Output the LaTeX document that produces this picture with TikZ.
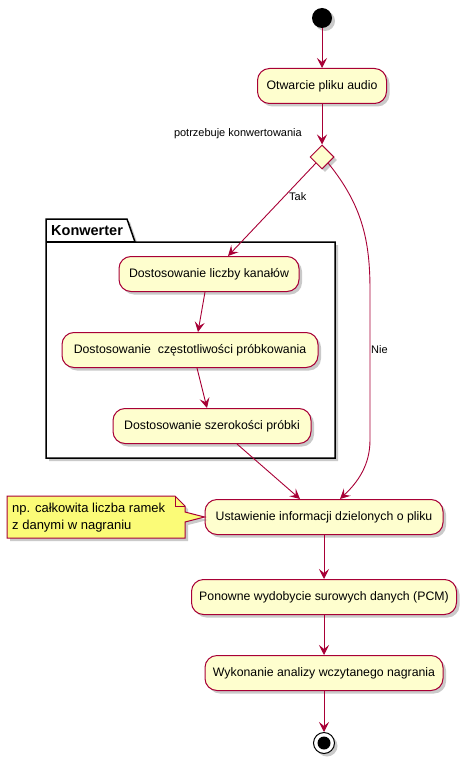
\documentclass[tikz,border=0pt]{standalone}
\usepackage{fontspec}
\setmainfont{Liberation Sans}
\usetikzlibrary{shapes.geometric,arrows.meta,shadows}
\definecolor{actfill}{HTML}{FEFECE}
\definecolor{actline}{HTML}{A80036}
\definecolor{notefill}{HTML}{FBFB77}
\tikzset{
  shad/.style={drop shadow={shadow xshift=3pt,shadow yshift=-3pt,opacity=0.35,fill=black!60}},
  act/.style={draw=actline,fill=actfill,line width=1pt,rounded corners=12pt,shad,
    inner sep=0pt,minimum height=35pt,font=\fontsize{12.3}{14}\selectfont,text=black},
  flow/.style={draw=actline,line width=0.9pt,-{Stealth[length=10pt,width=10pt,inset=4pt]}},
  lbl/.style={font=\fontsize{11}{13}\selectfont,text=black,inner sep=0pt},
}
\begin{document}
\begin{tikzpicture}[x=1pt,y=-1pt]
\useasboundingbox (0,0) rectangle (467,762);
% package
\path[draw=black,line width=1.5pt,fill=white,shad] (46,242) -- (46,219) -- (127,219) -- (135,242) -- (335,242) -- (335,458) -- (46,458) -- cycle;
\draw[black,line width=1.5pt] (46,242) -- (135,242);
\node[anchor=west,font=\bfseries\fontsize{14.5}{16}\selectfont,inner sep=0pt] (pk) at (51,231) {Konwerter};
% nodes
\node[circle,fill=black,minimum size=20pt,inner sep=0pt,shad] (s) at (322,18) {};
\node[act,minimum width=129pt] (a1) at (322,86) {Otwarcie pliku audio};
\node[diamond,draw=actline,fill=actfill,line width=1pt,minimum width=24pt,minimum height=24pt,inner sep=0pt,shad] (d) at (322,157) {};
\node[lbl,anchor=east] (dl) at (302,134) {potrzebuje konwertowania};
\node[act,minimum width=180pt] (k1) at (209,274) {Dostosowanie liczby kanałów};
\node[act,minimum width=256pt] (k2) at (190,350) {Dostosowanie\ \ częstotliwości próbkowania};
\node[act,minimum width=198pt] (k3) at (212,426) {Dostosowanie szerokości próbki};
\node[act,minimum width=238pt] (u) at (324,517) {Ustawienie informacji dzielonych o pliku};
\node[act,minimum width=265pt] (p) at (324,597) {Ponowne wydobycie surowych danych (PCM)};
\node[act,minimum width=238pt] (w) at (324,673) {Wykonanie analizy wczytanego nagrania};
\node[circle,draw=black,line width=1pt,fill=white,minimum size=21pt,inner sep=0pt,shad] (e) at (324,743) {};
\node[circle,fill=black,minimum size=13pt,inner sep=0pt] (ei) at (324,743) {};
% note
\path[draw=actline,fill=notefill,line width=1pt,shad] (7,496) -- (175,496) -- (185,506) -- (185,512) -- (u.west) -- (185,522) -- (185,538) -- (7,538) -- cycle;
\draw[actline,line width=1pt] (175,496) -- (175,506) -- (185,506);
\node[anchor=west,align=left,font=\fontsize{13}{17}\selectfont,inner sep=0pt] (nt) at (12,517.5) {np. całkowita liczba ramek\\z danymi w nagraniu};
% connectors
\draw[flow] (s) -- (a1);
\draw[flow] (a1) -- (d);
\draw[flow] (d.south west) -- ([xshift=19pt]k1.north);
\node[lbl,anchor=west] (tak) at (289,197) {Tak};
\draw[flow] (d.south east) .. controls (362,205) and (370,240) .. (370,290) -- (370,440) .. controls (370,465) and (358,482) .. ([xshift=16pt]u.north) ;
\node[lbl,anchor=west] (nie) at (371,350) {Nie};
\draw[flow] ([xshift=-4pt]k1.south) -- ([xshift=8pt]k2.north);
\draw[flow] ([xshift=7pt]k2.south) -- ([xshift=-5pt]k3.north);
\draw[flow] ([xshift=25pt]k3.south) -- ([xshift=-24pt]u.north);
\draw[flow] (u) -- (p);
\draw[flow] (p) -- (w);
\draw[flow] (w) -- (e);
\end{tikzpicture}
\end{document}
